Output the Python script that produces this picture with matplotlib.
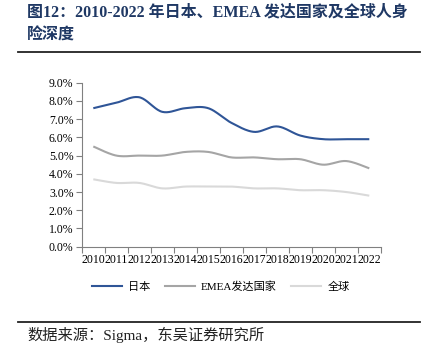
import numpy as np
import matplotlib
matplotlib.use("Agg")
import matplotlib.pyplot as plt
from matplotlib.lines import Line2D

years = [str(y) for y in range(2010, 2023)]
japan = [7.6, 7.9, 8.2, 7.4, 7.6, 7.6, 6.8, 6.3, 6.6, 6.1, 5.9, 5.9, 5.9]
emea = [5.5, 5.0, 5.0, 5.0, 5.2, 5.2, 4.9, 4.9, 4.8, 4.8, 4.5, 4.7, 4.3]
world = [3.7, 3.5, 3.5, 3.2, 3.3, 3.3, 3.3, 3.2, 3.2, 3.1, 3.1, 3.0, 2.8]
series_names = ["日本", "EMEA发达国家", "全球"]
colors = ["#2F5597", "#A5A5A5", "#D9D9D9"]
yticks = [0, 1, 2, 3, 4, 5, 6, 7, 8, 9]

FAM = ["Liberation Serif", "Noto Sans CJK SC"]


def smooth(xs, ys, n=20):
    xs = np.asarray(xs, float)
    ys = np.asarray(ys, float)
    px, py = [], []
    N = len(xs)
    for i in range(N - 1):
        x0, y0 = (xs[i - 1], ys[i - 1]) if i > 0 else (xs[i], ys[i])
        x1, y1 = xs[i], ys[i]
        x2, y2 = xs[i + 1], ys[i + 1]
        x3, y3 = (xs[i + 2], ys[i + 2]) if i + 2 < N else (xs[i + 1], ys[i + 1])
        t = np.linspace(0, 1, n, endpoint=(i == N - 2))
        c1x, c1y = x1 + (x2 - x0) / 6, y1 + (y2 - y0) / 6
        c2x, c2y = x2 - (x3 - x1) / 6, y2 - (y3 - y1) / 6
        bx = (1 - t) ** 3 * x1 + 3 * (1 - t) ** 2 * t * c1x + 3 * (1 - t) * t ** 2 * c2x + t ** 3 * x2
        by = (1 - t) ** 3 * y1 + 3 * (1 - t) ** 2 * t * c1y + 3 * (1 - t) * t ** 2 * c2y + t ** 3 * y2
        px.extend(bx)
        py.extend(by)
    return np.array(px), np.array(py)


fig = plt.figure(figsize=(4.29, 3.6), dpi=100)
ax = fig.add_axes([81.8 / 429, 1 - 246.7 / 360, (380.8 - 81.8) / 429, (246.7 - 82.7) / 360])

x = np.arange(len(years))
for vals, name, c in zip([japan, emea, world], series_names, colors):
    sx, sy = smooth(x, vals)
    ax.plot(sx, sy, color=c, lw=1.5, label=name, solid_capstyle="butt")

ax.set_xlim(-0.5, len(years) - 0.5)
ax.set_ylim(0, 9)
ax.set_yticks(yticks)
ax.set_yticklabels([f"{v:.1f}%" for v in yticks], family=FAM, fontsize=8.5)
ax.set_xticks(x)
ax.set_xticklabels(years, family=FAM, fontsize=8.5)
ax.set_xticks(np.arange(-0.5, len(years)), minor=True)
ax.tick_params(axis="x", which="major", length=0, pad=5)
ax.tick_params(axis="x", which="minor", length=4, direction="out", color="#808080", width=0.8)
ax.tick_params(axis="y", length=4, direction="out", color="#808080", width=0.8, pad=2)
for s in ["top", "right"]:
    ax.spines[s].set_visible(False)
for s in ["left", "bottom"]:
    ax.spines[s].set_color("#808080")
    ax.spines[s].set_linewidth(0.8)

handles = [Line2D([], [], color=c, lw=1.5) for c in colors]
leg = fig.legend(handles, series_names, loc="center", bbox_to_anchor=(221 / 429, 1 - 287 / 360),
                 ncol=3, frameon=False, handlelength=2.7, columnspacing=1.3, handletextpad=0.55,
                 prop={"family": FAM, "size": 8})

title_color = "#1F3864"
fig.text(27 / 429, 1 - 12 / 360, "图12：2010-2022 年日本、EMEA 发达国家及全球人身", family=FAM,
         fontsize=11.5, fontweight="bold", color=title_color, ha="left", va="center")
fig.text(27 / 429, 1 - 36 / 360, "险深度", family=FAM,
         fontsize=11.5, fontweight="bold", color=title_color, ha="left", va="center")
fig.add_artist(Line2D([18 / 429, 420 / 429], [1 - 51.7 / 360] * 2, color="#222222", lw=1.3,
                      transform=fig.transFigure))
fig.add_artist(Line2D([18 / 429, 420 / 429], [1 - 321.7 / 360] * 2, color="#222222", lw=1.3,
                      transform=fig.transFigure))
fig.text(27 / 429, 1 - 335 / 360, "数据来源：Sigma，东吴证券研究所", family=FAM,
         fontsize=11, color="#222222", ha="left", va="center")

fig.savefig("out.png", dpi=100)
